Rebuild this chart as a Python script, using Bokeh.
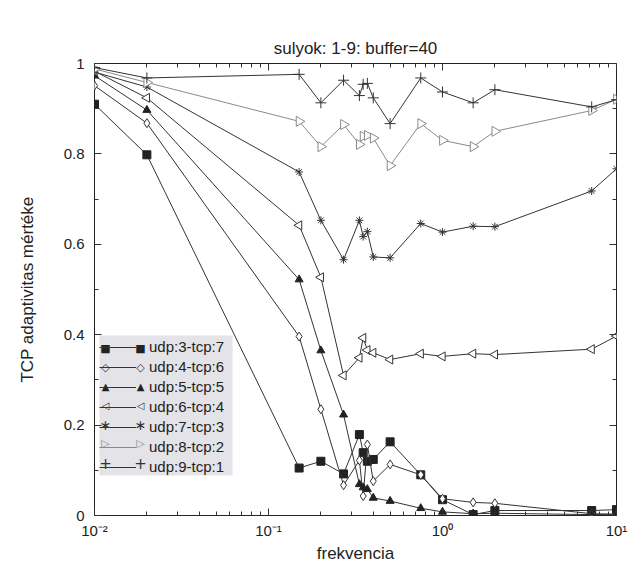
import math
from bokeh.plotting import figure
from bokeh.models import (LogAxis, LinearAxis, FixedTicker, Legend, LegendItem,
                          Range1d, Label, BoxAnnotation)
from bokeh.embed import file_html
from bokeh.resources import INLINE

# ---- data ----
freq = [0.01, 0.02, 0.15, 0.2, 0.27, 0.333, 0.35, 0.37, 0.4, 0.5, 0.75, 1.0, 1.5, 2.0, 7.2, 10.0]

udp3_tcp7 = [0.910, 0.798, 0.105, 0.120, 0.092, 0.179, 0.139, 0.120, 0.124, 0.163, 0.090, 0.035, 0.002, 0.011, 0.011, 0.013]
udp4_tcp6 = [0.951, 0.868, 0.396, 0.235, 0.067, 0.122, 0.043, 0.157, 0.076, 0.113, 0.090, 0.037, 0.029, 0.027, 0.004, 0.003]
udp5_tcp5 = [0.973, 0.897, 0.522, 0.365, 0.223, 0.069, 0.062, 0.058, 0.039, 0.032, 0.016, 0.008, 0.004, 0.005, 0.002, 0.002]
udp6_tcp4 = [0.983, 0.924, 0.642, 0.527, 0.310, 0.349, 0.393, 0.366, 0.360, 0.345, 0.358, 0.352, 0.358, 0.356, 0.368, 0.397]
udp7_tcp3 = [0.981, 0.948, 0.760, 0.653, 0.566, 0.653, 0.617, 0.628, 0.572, 0.570, 0.646, 0.627, 0.640, 0.639, 0.718, 0.767]
udp8_tcp2 = [0.988, 0.958, 0.872, 0.816, 0.865, 0.821, 0.839, 0.841, 0.835, 0.774, 0.867, 0.830, 0.816, 0.850, 0.896, 0.921]
udp9_tcp1 = [0.991, 0.968, 0.976, 0.913, 0.963, 0.929, 0.954, 0.956, 0.924, 0.867, 0.968, 0.937, 0.913, 0.942, 0.904, 0.920]

series_labels = ["udp:3-tcp:7", "udp:4-tcp:6", "udp:5-tcp:5", "udp:6-tcp:4",
                 "udp:7-tcp:3", "udp:8-tcp:2", "udp:9-tcp:1"]
series_values = [udp3_tcp7, udp4_tcp6, udp5_tcp5, udp6_tcp4, udp7_tcp3, udp8_tcp2, udp9_tcp1]

x_major = [0.01, 0.1, 1.0, 10.0]
x_major_labels = ["10\u207b\u00b2", "10\u207b\u00b9", "10\u2070", "10\u00b9"]
y_major = [0, 0.2, 0.4, 0.6, 0.8, 1.0]
y_major_labels = ["0", "0.2", "0.4", "0.6", "0.8", "1"]

title_text = "sulyok: 1-9: buffer=40"
x_label = "frekvencia"
y_label = "TCP adaptivitas mértéke"

FONT = "Liberation Sans"

# ---- figure ----
p = figure(width=633, height=570, x_axis_type="log",
           x_range=Range1d(0.01, 10.0), y_range=Range1d(0, 1.0),
           output_backend="svg", toolbar_location=None,
           min_border_left=94, min_border_right=17, min_border_top=63, min_border_bottom=55)
p.background_fill_color = "white"
p.border_fill_color = "white"
p.outline_line_color = "#222222"
p.outline_line_width = 1
p.xgrid.visible = False
p.ygrid.visible = False

p.title.text = title_text
p.title.align = "center"
p.title.text_font = FONT
p.title.text_font_size = "17px"
p.title.text_font_style = "normal"
p.title.text_color = "#222222"
p.title.standoff = 11

x_minor = [m * 10.0 ** e for e in (-2, -1, 0) for m in range(2, 10)]
y_minor = [0.1, 0.3, 0.5, 0.7, 0.9]

def style_axis(ax, show_labels):
    ax.axis_line_color = None
    ax.major_tick_in = 7
    ax.major_tick_out = 0
    ax.minor_tick_in = 4
    ax.minor_tick_out = 0
    ax.major_tick_line_color = "#333333"
    ax.minor_tick_line_color = "#333333"
    ax.major_label_text_font = FONT
    ax.major_label_text_color = "#222222"
    ax.axis_label_text_font = FONT
    ax.axis_label_text_font_style = "normal"
    ax.axis_label_text_color = "#222222"
    ax.axis_label_text_font_size = "17px"
    if show_labels:
        ax.major_label_text_font_size = "15px"
    else:
        ax.major_label_text_font_size = "1px"
        ax.major_label_text_alpha = 0.0
        ax.major_label_standoff = 0

xt = FixedTicker(ticks=x_major, minor_ticks=x_minor)
yt = FixedTicker(ticks=y_major, minor_ticks=y_minor)

xa = p.xaxis[0]
xa.ticker = xt
xa.major_label_overrides = {v: s for v, s in zip(x_major, x_major_labels)}
style_axis(xa, True)
xa.axis_label = x_label
xa.major_label_standoff = 6
xa.axis_label_standoff = 2

ya = p.yaxis[0]
ya.ticker = yt
ya.major_label_overrides = {v: s for v, s in zip(y_major, y_major_labels)}
style_axis(ya, True)
ya.axis_label = y_label
ya.major_label_standoff = 10
ya.axis_label_standoff = 24

top = LogAxis(ticker=FixedTicker(ticks=x_major, minor_ticks=x_minor))
style_axis(top, False)
p.add_layout(top, "above")
right = LinearAxis(ticker=FixedTicker(ticks=y_major, minor_ticks=y_minor))
style_axis(right, False)
p.add_layout(right, "right")

# ---- series ----
styles = [
    dict(marker="square", fill="#222222", line="#222222", size=8, angle=0.0, lc="#333333",
         sym="\u25a0", sym_size="11px"),
    dict(marker="diamond", fill="white", line="#333333", size=9, angle=0.0, lc="#333333",
         sym="\u25c7", sym_size="11px"),
    dict(marker="triangle", fill="#222222", line="#222222", size=8, angle=0.0, lc="#333333",
         sym="\u25b2", sym_size="10px"),
    dict(marker="triangle", fill="white", line="#333333", size=9, angle=math.pi / 2, lc="#333333",
         sym="\u25c1", sym_size="10px"),
    dict(marker="asterisk", fill=None, line="#333333", size=8, angle=0.0, lc="#333333",
         sym="\u2217", sym_size="14px"),
    dict(marker="triangle", fill="white", line="#8a8a8a", size=10, angle=-math.pi / 2, lc="#8a8a8a",
         sym="\u25b7", sym_size="11px"),
    dict(marker="cross", fill=None, line="#333333", size=11, angle=0.0, lc="#333333",
         sym="+", sym_size="15px"),
]

# legend geometry (screen px, relative to frame bottom-left)
LEG_X, LEG_Y, LEG_W = 5, 40, 133
PAD, GW, ROW_H, SP = 5, 37, 16, 3
n_items = len(series_labels)
leg_h = 2 * PAD + n_items * ROW_H + (n_items - 1) * SP

# legend background box drawn underneath
p.add_layout(BoxAnnotation(left=LEG_X, right=LEG_X + LEG_W, bottom=LEG_Y, top=LEG_Y + leg_h,
                           left_units="screen", right_units="screen",
                           bottom_units="screen", top_units="screen",
                           fill_color="#e4e4e8", fill_alpha=1.0, line_color=None,
                           level="underlay"))

items = []
marker_labels = []
for i, (lab, vals, st) in enumerate(zip(series_labels, series_values, styles)):
    ln = p.line(freq, vals, line_color=st["lc"], line_width=1)
    sc = p.scatter(freq, vals, marker=st["marker"], size=st["size"], angle=st["angle"],
                   fill_color=st["fill"], line_color=st["line"], line_width=1)
    items.append(LegendItem(label=lab, renderers=[ln]))
    cy = LEG_Y + leg_h - PAD - ROW_H / 2 - i * (ROW_H + SP)
    for cx in (LEG_X + PAD + 1, LEG_X + PAD + GW - 1):
        marker_labels.append(Label(x=cx, y=cy, x_units="screen", y_units="screen", text=st["sym"],
                                   text_font="DejaVu Sans", text_font_size=st["sym_size"],
                                   text_color=st["line"], text_align="center",
                                   text_baseline="middle"))

legend = Legend(items=items, location=(LEG_X, LEG_Y))
legend.background_fill_alpha = 0.0
legend.border_line_color = None
legend.label_text_font = FONT
legend.label_text_font_size = "15px"
legend.label_text_color = "#222222"
legend.glyph_width = GW
legend.glyph_height = ROW_H
legend.label_height = ROW_H
legend.spacing = SP
legend.padding = PAD
legend.margin = 0
legend.label_standoff = 13
p.add_layout(legend, "center")
for lb in marker_labels:
    p.add_layout(lb, "center")

open("out.html", "w").write(file_html(p, INLINE))
